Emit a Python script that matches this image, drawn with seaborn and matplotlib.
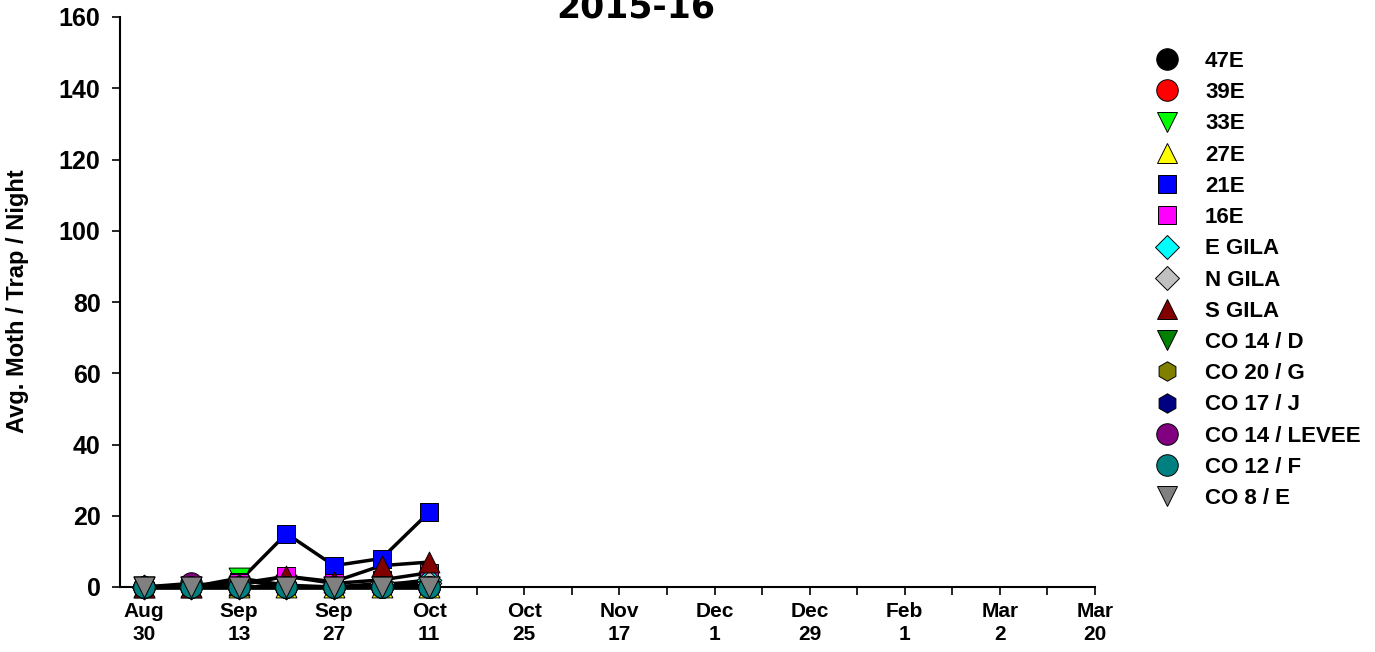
import matplotlib
matplotlib.use("Agg")
import matplotlib.pyplot as plt
from matplotlib.lines import Line2D
import pandas as pd
import seaborn as sns

# trap sites, in legend order
sites = ["47E", "39E", "33E", "27E", "21E", "16E", "E GILA", "N GILA", "S GILA",
         "CO 14 / D", "CO 20 / G", "CO 17 / J", "CO 14 / LEVEE", "CO 12 / F", "CO 8 / E"]
colors = ["#000000", "#ff0000", "#00ff00", "#ffff00", "#0000ff", "#ff00ff", "#00ffff",
          "#c0c0c0", "#800000", "#008000", "#808000", "#000080", "#800080", "#008080", "#808080"]
markers = ["o", "o", "v", "^", "s", "s", "D", "D", "^", "v", "h", "h", "o", "o", "v"]

# tick labels for the season (one tick per sample slot)
date_labels = ["Aug\n30", "", "Sep\n13", "", "Sep\n27", "", "Oct\n11", "", "Oct\n25", "",
               "Nov\n17", "", "Dec\n1", "", "Dec\n29", "", "Feb\n1", "", "Mar\n2", "", "Mar\n20"]

# avg moths / trap / night for the first seven samples
v_47e = [0, 0, 0, 0, 0, 0, 0]
v_39e = [0, 0, 2, 0, 0, 0, 0]
v_33e = [0, 0, 2.5, 0.5, 0, 0, 0]
v_27e = [0, 0, 0, 0, 0, 0, 0]
v_21e = [0, 0, 1.5, 15, 6, 8, 21]
v_16e = [0, 0.5, 1, 3, 1, 2, 4]
v_egila = [0, 0, 0, 0, 0, 0.5, 2]
v_ngila = [0, 0, 0, 0, 0, 1, 1]
v_sgila = [0, 0, 0.5, 3, 1.5, 6, 7]
v_co14d = [0, 0, 0, 0, 0, 0, 0]
v_co20g = [0, 0, 0, 0, 0, 0, 0]
v_co17j = [0, 0, 0, 0, 0, 0, 0]
v_co14lev = [0, 1, 0, 0, 0, 0, 0]
v_co12f = [0, 0, 0, 0, 0, 0, 0]
v_co8e = [0, 0, 0, 0, 0, 0, 0]

values = [v_47e, v_39e, v_33e, v_27e, v_21e, v_16e, v_egila, v_ngila, v_sgila,
          v_co14d, v_co20g, v_co17j, v_co14lev, v_co12f, v_co8e]

# marker size (points) per marker shape so that they look alike on screen
msize = {"o": 15.5, "v": 15, "^": 15, "s": 13, "D": 12.5, "h": 14}

rows = []
for site, vals in zip(sites, values):
    for i, v in enumerate(vals):
        rows.append({"site": site, "idx": i, "val": v})
df = pd.DataFrame(rows)

sns.set_style("ticks")
plt.rcParams["font.family"] = ["Liberation Sans", "DejaVu Sans"]
plt.rcParams["font.weight"] = "bold"
plt.rcParams["text.color"] = "black"
plt.rcParams["axes.labelcolor"] = "black"
plt.rcParams["xtick.color"] = "black"
plt.rcParams["ytick.color"] = "black"

fig = plt.figure(figsize=(13.75, 6.52), dpi=100)
ax = fig.add_axes([120 / 1375, 1 - 587 / 652, (1095 - 120) / 1375, (587 - 17) / 652])

for k, site in enumerate(sites):
    sub = df[df["site"] == site]
    sns.lineplot(data=sub, x="idx", y="val", color="black", lw=2.5, ax=ax,
                 estimator=None, legend=False, clip_on=False)
    sns.scatterplot(data=sub, x="idx", y="val", color=colors[k],
                    marker=markers[k], s=msize[markers[k]] ** 2, edgecolor="black",
                    linewidth=0.7, ax=ax, legend=False, clip_on=False, zorder=3)

ax.set_xlim(-0.5, 20)
ax.set_ylim(0, 160)
ax.set_xticks(range(len(date_labels)))
ax.set_xticklabels(date_labels, fontsize=15, fontweight="bold", linespacing=1.25)
ax.set_yticks(range(0, 161, 20))
ax.set_yticklabels([str(t) for t in range(0, 161, 20)], fontsize=18, fontweight="bold")
ax.tick_params(axis="both", direction="out", length=6, width=1.2, color="black")
ax.tick_params(axis="x", pad=5)
ax.tick_params(axis="y", pad=8)
ax.set_xlabel("")
ax.set_ylabel("Avg. Moth / Trap / Night", fontsize=17, fontweight="bold")
ax.yaxis.set_label_coords(-0.0935, 0.502)
sns.despine(ax=ax)
for sp in ["left", "bottom"]:
    ax.spines[sp].set_color("black")
    ax.spines[sp].set_linewidth(1.5)

fig.text(636 / 1375, 1 - 18 / 652, "2015-16", ha="center", va="baseline",
         fontsize=25, fontweight="bold", family=["DejaVu Sans"])

handles = [Line2D([], [], linestyle="none", marker=m, markersize=msize[m], markerfacecolor=c,
                  markeredgecolor="black", markeredgewidth=0.7)
           for m, c in zip(markers, colors)]
fig.legend(handles, sites, loc="upper left", bbox_to_anchor=(1154 / 1375, 1 - 51 / 652),
           frameon=False, prop={"size": 16, "weight": "bold"}, labelspacing=0.46,
           handletextpad=1.1, handlelength=1.2, borderpad=0, borderaxespad=0)

fig.savefig("out.png", dpi=100)
